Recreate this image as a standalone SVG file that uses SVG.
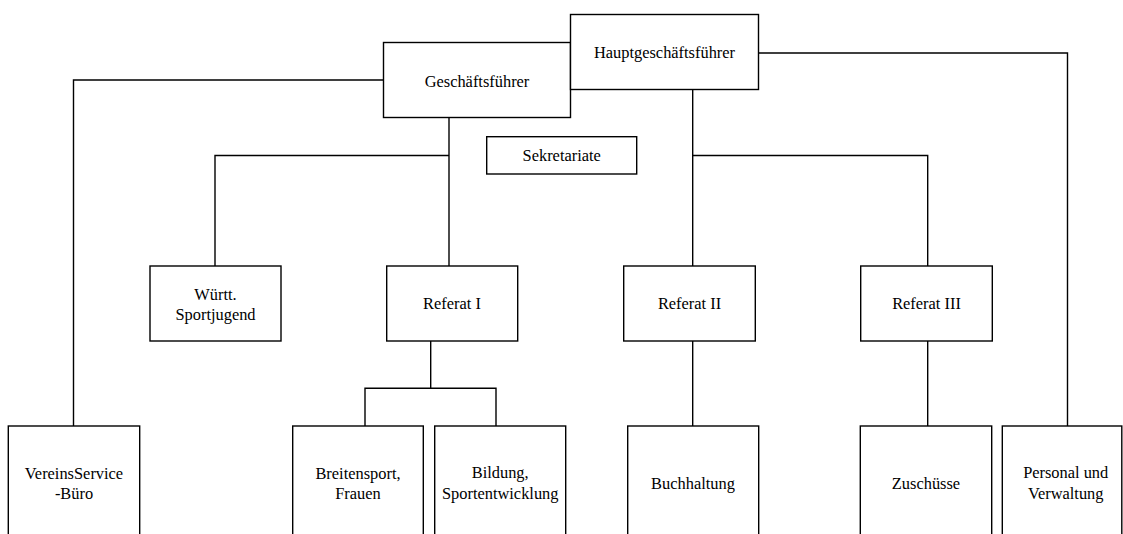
<svg xmlns="http://www.w3.org/2000/svg" width="1123" height="534" viewBox="0 0 1123 534">
<style>
.n rect{fill:#fff;stroke:#000;stroke-width:1.4}
.c path{fill:none;stroke:#000;stroke-width:1.4}
.n text{font-family:"Liberation Serif","Times New Roman","DejaVu Serif",serif;font-size:16.4px;fill:#000;text-anchor:middle}
</style>
<rect x="0" y="0" width="1123" height="534" style="fill:#fff;stroke:none"/>
<g class="c">
<path d="M383.5 80H73.5V426"/>
<path d="M758.5 53H1067.5V426"/>
<path d="M449 117.5V266"/>
<path d="M215 266V155.5H449"/>
<path d="M692.7 89.5V266"/>
<path d="M692.7 155.5H927.7V266"/>
<path d="M430.7 341V388.3"/>
<path d="M365 426V388.3H496V426"/>
<path d="M692.7 341V426"/>
<path d="M927.7 341V426"/>
</g>
<g id="geschaeftsfuehrer" class="n"><rect x="383.5" y="42.5" width="187" height="75"/><text x="477" y="87">Geschäftsführer</text></g>
<g id="hauptgeschaeftsfuehrer" class="n"><rect x="570.5" y="14.5" width="188" height="75"/><text x="664.5" y="58">Hauptgeschäftsführer</text></g>
<g id="sekretariate" class="n"><rect x="486.7" y="136.7" width="150" height="37.3"/><text x="561.7" y="161">Sekretariate</text></g>
<g id="wuertt" class="n"><rect x="150" y="266" width="131" height="75"/><text x="215.5" y="300">Württ.</text><text x="215.5" y="320">Sportjugend</text></g>
<g id="referat1" class="n"><rect x="386.7" y="266" width="131" height="75"/><text x="452" y="309">Referat I</text></g>
<g id="referat2" class="n"><rect x="623.7" y="266" width="131.6" height="75"/><text x="689.5" y="309">Referat II</text></g>
<g id="referat3" class="n"><rect x="860.7" y="266" width="131.6" height="75"/><text x="926.5" y="309">Referat III</text></g>
<g id="vereinsservice" class="n"><rect x="8.3" y="426" width="131.4" height="120"/><text x="74" y="479">VereinsService</text><text x="74" y="499">-Büro</text></g>
<g id="breitensport" class="n"><rect x="292.7" y="426" width="130.6" height="120"/><text x="358" y="479">Breitensport,</text><text x="358" y="499">Frauen</text></g>
<g id="bildung" class="n"><rect x="434.7" y="426" width="131" height="120"/><text x="500.2" y="478">Bildung,</text><text x="500.2" y="499">Sportentwicklung</text></g>
<g id="buchhaltung" class="n"><rect x="627.7" y="426" width="131" height="120"/><text x="693" y="489">Buchhaltung</text></g>
<g id="zuschuesse" class="n"><rect x="860.3" y="426" width="131.4" height="120"/><text x="926" y="489">Zuschüsse</text></g>
<g id="personal" class="n"><rect x="1002.3" y="426" width="119.5" height="120"/><text x="1065.7" y="478">Personal und</text><text x="1065.7" y="499">Verwaltung</text></g>
</svg>
